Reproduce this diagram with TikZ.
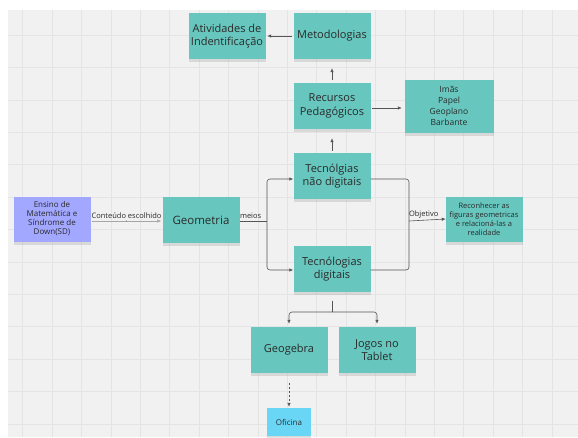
\documentclass[tikz,border=0pt]{standalone}
\usepackage{fontspec}
\setmainfont{Open Sans}
\usetikzlibrary{arrows.meta,shadows}
\definecolor{sticky}{HTML}{67C7BF}
\definecolor{lilac}{HTML}{A2A7FF}
\definecolor{skyb}{HTML}{6AD6F6}
\definecolor{board}{HTML}{F1F1F1}
\definecolor{gridc}{HTML}{E4E4E4}
\definecolor{ink}{HTML}{2A2A2A}
\definecolor{wire}{HTML}{555555}
\tikzset{note/.style={fill=sticky,align=center,text=ink,minimum width=77pt,minimum height=46pt,inner sep=2pt,
    font=\fontsize{11}{13.5}\selectfont,drop shadow={shadow xshift=0pt,shadow yshift=-3pt,opacity=0.22}},
  small/.style={note,font=\fontsize{8}{9}\selectfont},
  gridln/.style={gridc,line width=0.5pt},
  conn/.style={draw=wire,line width=0.6pt},
  arr/.style={conn,-{Latex[length=4pt,width=3.5pt]}},
  lbl/.style={font=\fontsize{7.5}{9}\selectfont,text=ink,inner sep=1pt}}

\begin{document}
\begin{tikzpicture}[x=1pt,y=-1pt]
\useasboundingbox (0,0) rectangle (578,437);
\fill[white] (0,0) rectangle (578,437);
\fill[board] (8,10) rectangle (578,437);
\foreach \gx in {0,...,18}{\draw[gridln] ({22.7+29.4*\gx},10) -- ({22.7+29.4*\gx},437);}
\foreach \gy in {0,...,12}{\draw[gridln] (8,{35+32.4*\gy}) -- (578,{35+32.4*\gy});}

% sticky notes
\node[note] (act) at (227,36) {Atividades de\\Indentificação};
\node[note] (met) at (332,36) {Metodologias};
\node[note] (rec) at (332,106) {Recursos\\Pedagógicos};
\node[note,minimum width=89pt,minimum height=53pt,font=\fontsize{8.5}{11}\selectfont] (mat) at (449,106) {Imãs\\Papel\\Geoplano\\Barbante};
\node[note] (ndig) at (332,176) {Tecnólgias\\não digitais};
\node[small,fill=lilac,minimum height=45pt] (ens) at (52,219) {Ensino de\\Matemática e\\Síndrome de\\Down(SD)};
\node[note,font=\fontsize{11.5}{13.5}\selectfont] (geo) at (201,220) {Geometria};
\node[note] (dig) at (332,269) {Tecnólogias\\digitais};
\node[small,font=\fontsize{7.5}{9}\selectfont,minimum height=45pt] (goal) at (484,219) {Reconhecer as\\figuras geometricas\\e relacioná-las a\\realidade};
\node[note] (gbra) at (289,350) {Geogebra};
\node[note] (jogo) at (377,350) {Jogos no\\Tablet};
\node[small,fill=skyb,minimum width=44pt,minimum height=28pt] (ofi) at (289,422) {Oficina};

% connectors
\coordinate (splitA) at (267,221);
\coordinate (joinB) at (409,221);
\coordinate (splitC) at (332,312);
\draw[arr] ([xshift=-1pt]met.west) -- ([xshift=1.5pt]act.east);
\draw[arr] ([yshift=3pt]rec.north) -- ([yshift=-9pt]met.south);
\draw[arr] ([xshift=1.5pt,yshift=-2pt]rec.east) -- ([xshift=-2.5pt,yshift=-2pt]mat.west);
\draw[arr] ([yshift=2pt]ndig.north) -- ([yshift=-9pt]rec.south);
\draw[arr,draw=gray!70] ([xshift=1pt,yshift=-2pt]ens.east) -- node[pos=.5,circle,fill=gray,inner sep=0.5pt] (mid) {}
  node[lbl,above=1pt] (lcont) {Conteúdo escolhido} ([xshift=-1pt,yshift=-1pt]geo.west);
\draw[conn] ([yshift=-1pt]geo.east) -- node[lbl,above=1pt,pos=0.4] (lmeios) {meios} (splitA);
\draw[arr,rounded corners=3pt] (splitA) |- ([yshift=-3pt]ndig.west);
\draw[arr,rounded corners=3pt] (splitA) |- ([yshift=-1pt]dig.west);
\draw[conn,rounded corners=3pt] ([yshift=-3pt]ndig.east) -| (joinB) |- ([yshift=-1pt]dig.east);
\draw[arr] (joinB) -- node[lbl,above=1pt,pos=0.4] (lobj) {Objetivo} ([xshift=0.5pt]goal.west);
\draw[conn] ([yshift=-8.5pt]dig.south) -- (splitC);
\draw[arr,rounded corners=3pt] (splitC) -| ([yshift=3pt]gbra.north);
\draw[arr,rounded corners=3pt] (splitC) -| ([yshift=3pt]jogo.north);
\draw[arr,dash pattern=on 2pt off 2pt] ([yshift=-9.5pt]gbra.south) -- ([yshift=1pt]ofi.north);
\end{tikzpicture}
\end{document}
